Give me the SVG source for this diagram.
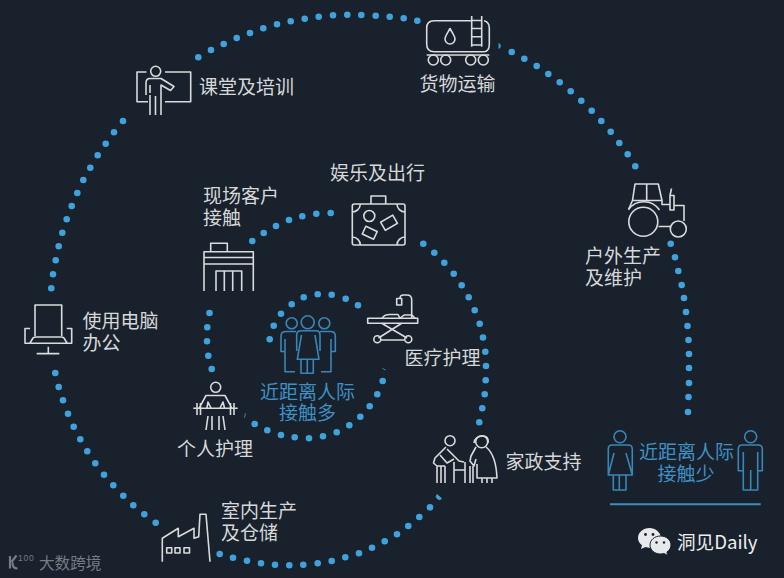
<svg xmlns="http://www.w3.org/2000/svg" width="784" height="578" viewBox="0 0 784 578">
<style>
text{font-family:"Noto Sans CJK SC","Noto Sans",sans-serif;font-size:19px;fill:#d6d8da}
.b{fill:#3f90c4}
.m{fill:none;stroke:#d9dbdc;stroke-width:1.6;stroke-linejoin:round}
.p{fill:none;stroke:#3a86b8;stroke-width:1.6;stroke-linejoin:round}
.d{fill:none;stroke:#40a2dc;stroke-width:6.600;stroke-linecap:round}
</style>
<rect width="784" height="578" fill="#19212c"/>
<g id="connectors">
<path class="d" d="M688 412h0M688.500 397h0M689 383h0M689 368h0M689 354h0M688.500 340h0M687.500 326h0M686 312h0M684 298h0M681.700 285h0M678.300 271h0M675 257.300h0M670.700 243.700h0M635.300 166.300h0M627.700 154.300h0M619.300 143h0M610.700 131.700h0M601.300 121h0M591.700 110.700h0M581.300 100.700h0M570.700 91.300h0M559.700 82.300h0M548.300 74h0M536.700 66h0M524.300 58.700h0M511.700 52h0"/>
<path class="d" d="M417.300 20.700h0M403.700 18.300h0M389.700 16.700h0M375.700 15.700h0M361.300 15h0M347.300 14.700h0M333 15.300h0M318.700 16.700h0M304.700 18.700h0M290.700 21.300h0M277 24.300h0M263.300 28.300h0M250 33h0M236.700 38h0M223.700 44h0M211 50h0M198.300 57.300h0"/>
<path class="d" d="M123 121h0M114 132.300h0M105.700 143.700h0M97.700 155.300h0M90.300 167.700h0M83.300 180h0M77.300 193h0M71.700 206h0M66.700 219.300h0M62.300 232.700h0M58.700 246.300h0M55.700 260.300h0M53 274.300h0M51.300 288.300h0"/>
<path class="d" d="M55.300 373h0M58.700 387h0M63 400.300h0M68 413.700h0M73.700 426.700h0M80.300 439.300h0M87.300 451.300h0M95.300 463.300h0M104 474.700h0M113.300 485.300h0M123.300 495.700h0M133.300 505.300h0M144.300 514.300h0M155.700 522.700h0"/>
<path class="d" d="M219.700 554h0M233 557.700h0M247 560.700h0M261 563.300h0M275 564.700h0M289.300 565.300h0M303.300 564.700h0M317.700 563.300h0M331.700 561h0M345.300 557.300h0M359 553.300h0M372 547.700h0M384.700 541.300h0M397 534.300h0M408.300 526h0M419.300 517h0M430 507.300h0"/>
<path class="d" d="M479.300 422.300h0M482.300 408.300h0M484.700 394.300h0M485.700 380.300h0M486 366h0M485.300 351.700h0M483 337.500h0M479.700 323.700h0M474.700 310.300h0M468.700 297.300h0M461.700 285.300h0M453.700 273.700h0M444.300 262.700h0M434.300 252.700h0M423.300 243.700h0"/>
<path class="d" d="M330.700 213h0M316.300 213.700h0M302.300 216.300h0M289 220h0M276 226h0M263.700 233h0M252.300 241h0"/>
<path class="d" d="M209.500 313h0M207.300 327.300h0M207 341.300h0M208.300 355.700h0M211.700 369h0"/>
<path class="d" d="M254.700 424h0M267.300 430.300h0M281 435h0M294.700 437.300h0M309 438.300h0M323 436.300h0M336.700 432.300h0M349.300 425.300h0M360.300 416.700h0M369.700 406.300h0M377.300 394.300h0M382.700 381h0"/>
<path class="d" d="M358 305.300h0M345.700 298.700h0M331.700 294.700h0M317.700 294.300h0M303.700 297.300h0M291.700 304.300h0M281 313.700h0M273.700 325.700h0M269.700 339.300h0"/>
<path d="M499 43.500a3 3 0 0 1 0 5zM437 494.500a3 3 0 0 0 4.600 4zM245.500 413.300l-1 4.500M382.500 368.500l3 1.500" fill="#40a2dc" stroke="#40a2dc" stroke-width=".8"/>
</g>
<g id="classroom">
<path class="m" d="M146.500 72H137V101.700H148M165 72H190.700V101.700H165"/>
<circle class="m" cx="155.700" cy="71.300" r="5"/>
<path class="m" d="M150 115V95M146 95V83Q146 78.500 150 78.500H161L174 86.500 170.500 90.500 161 85V115M155.500 115V96M150 93V85"/>
<text x="199" y="94">课堂及培训</text>
</g>
<g id="tanker">
<path class="m" d="M471.700 20.700H434Q426.700 20.700 426.700 28V44Q426.700 51.700 434 51.700H484Q489.300 51.700 489.300 44V28Q489.300 22 484 20.700M426.700 55H489.300"/>
<path class="m" d="M471.700 16V46.700M481.700 16V46.700M471.700 20.500H481.700M471.700 28.500H481.700M471.700 36.700H481.700M471.700 45H481.700"/>
<path class="m" d="M450 28.500C447 34 445 36.500 445 39A5 5 0 0 0 455 39C455 36.500 453 34 450 28.500Z"/>
<circle class="m" cx="433.300" cy="60" r="5"/><circle class="m" cx="445.700" cy="60" r="5"/><circle class="m" cx="470.700" cy="60" r="5"/><circle class="m" cx="483.300" cy="60" r="5"/>
<text x="419.500" y="91">货物运输</text>
</g>
<g id="suitcase">
<path class="m" d="M371 204V196H385.700V204"/>
<rect class="m" x="352.300" y="204" width="52.700" height="41" rx="2"/>
<path class="m" d="M352.300 212A8 8 0 0 0 360.300 204M397 204A8 8 0 0 0 405 212M352.300 237A8 8 0 0 1 360.300 245M397 245A8 8 0 0 1 405 237"/>
<circle class="m" cx="369.300" cy="216" r="5.500"/>
<rect class="m" x="382" y="218" width="14" height="9.500" transform="rotate(-30 389 222.700)"/>
<rect class="m" x="363.500" y="228.500" width="12.500" height="8.500" transform="rotate(25 369.700 232.700)"/>
<text x="330" y="180">娱乐及出行</text>
</g>
<g id="building">
<path class="m" d="M210.700 251.700V243.300H227.300V251.700M204 291V251.700H253.300V291M204 257.500H253.300M204 264H253.300M216 291V271H241.700V291M224.300 271V291M232.700 271V291"/>
<text><tspan x="203" y="203">现场客户</tspan><tspan x="203" y="225">接触</tspan></text>
</g>
<g id="tractor">
<path class="m" d="M635 184H658.300L662 200.500H632.500ZM646.700 184V200.500M628.500 209.500L632.500 200.500M662 200.500V204.500H670M674 205.500H684V221M658.500 226.500H670"/>
<circle class="m" cx="643.300" cy="221.700" r="14.500"/>
<path class="m" d="M628.500 209.500A19 19 0 0 1 659.500 210"/>
<circle class="m" cx="678.300" cy="229" r="8"/>
<path class="m" d="M670 195.500H674V210H670ZM670 195.500L671.500 188.500"/>
<text><tspan x="585" y="263">户外生产</tspan><tspan x="585" y="285">及维护</tspan></text>
</g>
<g id="computer">
<path class="m" d="M35 336V305H61.700V336M30 328.500H25V343.300H71.700V328.500H66.700M30 343L33 338Q34 337 36 337H61Q63 337 64 338L67 343M48.300 346.700V353.300M36.700 353.600H59.300"/>
<text><tspan x="82.500" y="328">使用电脑</tspan><tspan x="82.500" y="350">办公</tspan></text>
</g>
<g id="stretcher">
<rect class="m" x="367.700" y="318.300" width="50" height="5"/>
<path class="m" d="M382 318.300Q384 314.500 390 314.500H398L400 318.300 404 315H412L415 318.300M411.700 318.300V300Q411.700 295 407 295H403.500Q400 295 400 298M396.700 298.500H401.700V305H396.700ZM381.700 323.300L407 338M401.700 323.300L378.500 338M381 340H404.500"/>
<circle class="m" cx="377.300" cy="339.300" r="3.500"/><circle class="m" cx="408.300" cy="339.300" r="3.500"/>
<text x="404.500" y="364.500">医疗护理</text>
</g>
<g id="center">
<circle class="p" cx="291.700" cy="323.300" r="5.500"/><circle class="p" cx="307.700" cy="322.300" r="6.500"/><circle class="p" cx="324.300" cy="323.300" r="5.500"/>
<path class="p" d="M296.700 351V335Q296.700 330.700 301 330.700H316Q320 330.700 320 335V351M301.500 335L297.300 359.300H319L315 335M301 359.300V373.300H313.300V359.300M307.300 359.300V373.300"/>
<path class="p" d="M296 331.500H286Q281 331.500 281 336V351.500H285V339M285 351.500V371.700H295M320 331.500H330.500Q335.300 331.500 335.300 336V351.500H331V339M331 351.500V371.700H321"/>
<text class="b"><tspan x="260" y="398.500">近距离人际</tspan><tspan x="279" y="420">接触多</tspan></text>
</g>
<g id="shower">
<circle class="m" cx="215.700" cy="387.300" r="5"/>
<path class="m" d="M199 408.300L206 395.500H225L232 408.300M193.300 408.300H237.700M197 403V415M200.500 403V415M230.500 403V415M234 403V415M207 408L208 402 211 408M220 408L223 402 224.500 408M208 416L206 430M212 416V430M219 416V430M223 416L225 430"/>
<text x="177" y="456">个人护理</text>
</g>
<g id="caregivers">
<circle class="m" cx="450" cy="440.700" r="5"/>
<circle class="m" cx="481.700" cy="441.700" r="6"/>
<path class="m" d="M446 447L435 458 433.500 463 437 466V483M441 466V483M445 466V483M437 466H445M447 449L456 458 459 461 464 462M440 455L447 463 454 459M454 462V483M465 462V483M454 470H465"/>
<path class="m" d="M474 443Q475 436 483 436 489 436 488 443M476 447L471 456 470 461 474 466 476 459M470 466V483M473 466V483M486 447Q496 455 497 478H477L477 464M482 478V483M487 478V483M492 478V483"/>
<text x="505.500" y="469">家政支持</text>
</g>
<g id="factory">
<path class="m" d="M162.300 561.700V538.300L178.300 528.300V536.700L194 528.300V538.300L198.700 536.700L200 514.300H206L210 561.700"/>
<rect class="m" x="166.700" y="547.700" width="5" height="5.300"/><rect class="m" x="175" y="547.700" width="5" height="5.300"/><rect class="m" x="184" y="547.700" width="5.500" height="5.300"/>
<text><tspan x="221" y="518">室内生产</tspan><tspan x="221" y="539.500">及仓储</tspan></text>
</g>
<g id="few">
<circle class="p" cx="620" cy="436.700" r="6"/>
<path class="p" d="M612 475H608.300V449Q608.300 445 612 445H628Q632.300 445 632.300 449V475H628M614 453L608.300 475H632.300L626 453M613.300 475V490H626V475M619.300 475V490"/>
<circle class="p" cx="750.700" cy="436.700" r="6"/>
<path class="p" d="M743.300 470.700H738.300V449Q738.300 445 742 445H758Q762.300 445 762.300 449V470.700H757.700M743.300 452V490H757.700V452M750.700 470V490"/>
<path d="M610 504.300H760.700" fill="none" stroke="#3f8dbd" stroke-width="2"/>
<text class="b"><tspan x="639" y="459">近距离人际</tspan><tspan x="657.500" y="481">接触少</tspan></text>
</g>
<g id="wechat">
<path d="M649.500 528C643 528 638 532.500 638 538 638 541 639.500 543.500 642 545.300L641 549 645.500 547C647 547.500 648 547.700 650 547.700 654 539 662 535 661 537 660 532 655.500 528 649.500 528Z" fill="#e6e8ea"/>
<path d="M660.500 536C654.500 536 650 540 650 545 650 550 654.500 554 660.500 554 662 554 663 553.800 664 553.500L667.500 555.500 667 552C669.500 550.200 671 547.800 671 545 671 540 666.500 536 660.500 536Z" fill="#e6e8ea" stroke="#19212c"/>
<circle cx="645.500" cy="534.500" r="1.400" fill="#19212c"/><circle cx="653" cy="534.500" r="1.400" fill="#19212c"/><circle cx="656.500" cy="542.500" r="1.200" fill="#19212c"/><circle cx="664" cy="542.500" r="1.200" fill="#19212c"/>
<text x="677" y="548.500" style="font-size:18.600px;fill:#eceeef">洞见Daily</text>
</g>
<g id="logo">
<path d="M10 556V568.500M11.500 562L16.500 555.500M17.500 568.500Q12.500 568.500 12.500 562.500" fill="none" stroke="#777c83" stroke-width="2.200"/>
<text x="18" y="560.500" style="font-size:8.500px;letter-spacing:.8px;fill:#777c83;font-family:'Liberation Sans',sans-serif">100</text>
<text x="39" y="569" style="font-size:15.600px;fill:#777c83">大数跨境</text>
</g>
</svg>
